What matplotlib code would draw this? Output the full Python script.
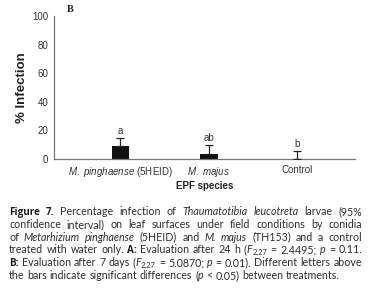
import matplotlib
matplotlib.use("Agg")
import matplotlib.pyplot as plt

# data
species = [r"$\mathit{M.\ pinghaense}$ (5HEID)", r"$\mathit{M.\ majus}$", "Control"]
infection = [9, 3.5, 0]
ci_upper = [6, 6.5, 5.5]
letters = ["a", "ab", "b"]
yticks = [0, 20, 40, 60, 80, 100]

caption = [
    "#Figure 7.# Percentage infection of *Thaumatotibia leucotreta* larvae (95%",
    "confidence interval) on leaf surfaces under field conditions by conidia",
    "of *Metarhizium pinghaense* (5HEID) and *M. majus* (TH153) and a control",
    "treated with water only. #A:# Evaluation after 24 h (*F*~2,27~ = 2.4495; *p* = 0.11.",
    "#B:# Evaluation after 7 days (*F*~2,27~ = 5.0870; *p* = 0.01). Different letters above",
    "the bars indicate significant differences (*p* < 0.05) between treatments.",
]

plt.rcParams['font.family'] = ['Liberation Sans', 'DejaVu Sans']
plt.rcParams['mathtext.fontset'] = 'custom'
plt.rcParams['mathtext.it'] = 'Liberation Sans:italic'
plt.rcParams['mathtext.rm'] = 'Liberation Sans'

W, H = 370, 304
fig = plt.figure(figsize=(W / 100, H / 100), dpi=100)
ax = fig.add_axes([54 / W, 1 - 159 / H, 301 / W, 143 / H])

x = range(len(species))
ax.bar(x, infection, width=0.2, color='#111111', zorder=2)
ax.errorbar(x, infection, yerr=[[0] * 3, ci_upper], fmt='none', ecolor='#222222',
            elinewidth=0.9, capsize=3.2, capthick=0.9, zorder=3)
for i in x:
    ax.text(i, infection[i] + ci_upper[i] + 1.2, letters[i], ha='center', va='bottom',
            fontsize=7, color='#333333')

ax.set_xlim(-0.75, 2.65)
ax.set_ylim(0, 100)
ax.set_yticks(yticks)
ax.set_xticks(list(x))
ax.set_xticklabels(species)
ax.tick_params(length=0, labelsize=7, colors='#333333', pad=4)
for s in ['top', 'right']:
    ax.spines[s].set_visible(False)
for s in ['left', 'bottom']:
    ax.spines[s].set_color('#777777')
    ax.spines[s].set_linewidth(0.9)
ax.set_ylabel("% Infection", fontsize=9.5, fontweight='bold', color='#222222', labelpad=3)
ax.set_xlabel("EPF species", fontsize=7, fontweight='bold', color='#222222', labelpad=2)
fig.text(70 / W, 1 - 9 / H, "B", family='Liberation Serif', fontweight='bold',
         fontsize=7.5, ha='center', va='center', color='#222222')

# caption, justified word by word
cap_font = 'Lato'
cap_col = '#2e2e2e'
x0, x1 = 9, 362
base0, step = 215, 12.8
renderer = fig.canvas.get_renderer()


def parse(line):
    words = []
    st = {'*': False, '#': False, '~': False}
    for w in line.split(' '):
        pieces = []
        cur = ''
        for ch in w:
            if ch in st:
                if cur:
                    pieces.append((cur, dict(st)))
                    cur = ''
                st[ch] = not st[ch]
            else:
                cur += ch
        if cur:
            pieces.append((cur, dict(st)))
        words.append(pieces)
    return words


def make(txt, s, size):
    size = size * (0.7 if s['~'] else 1)
    if s['#']:
        t = fig.text(0, 0, txt, family='Open Sans', fontsize=size * 0.93, color='#1e1e1e',
                     fontweight='bold', va='baseline')
    else:
        t = fig.text(0, 0, txt, family=cap_font, fontsize=size, color=cap_col,
                     fontstyle='italic' if s['*'] else 'normal', va='baseline')
    return t, t.get_window_extent(renderer).width


plain = {'*': False, '#': False, '~': False}


def space_width(size):
    a = make("a a", plain, size)
    b = make("aa", plain, size)
    a[0].remove()
    b[0].remove()
    return a[1] - b[1]


# pick a size so the widest line fits with normal word spacing
ref = 8.0
widest = 0
sw = space_width(ref)
for line in caption:
    tot = 0
    for pieces in parse(line):
        for t, s in pieces:
            o = make(t, s, ref)
            tot += o[1]
            o[0].remove()
    tot += sw * (len(line.split(' ')) - 1)
    widest = max(widest, tot)
cap_size = min(8.6, ref * (x1 - x0) / widest * 0.995)
space_w = space_width(cap_size)

for li, line in enumerate(caption):
    base = H - (base0 + li * step)
    words = []
    for pieces in parse(line):
        words.append([(make(t, s, cap_size), s) for t, s in pieces])
    widths = [sum(it[0][1] for it in w) for w in words]
    if li < len(caption) - 1:
        gap = (x1 - x0 - sum(widths)) / (len(words) - 1)
    else:
        gap = space_w
    xp = x0
    for w, ww in zip(words, widths):
        xx = xp
        for (t, wd), s in w:
            yy = base - (2 if s['~'] else 0)
            t.set_position((xx / W, yy / H))
            xx += wd
        xp += ww + gap

fig.savefig("out.png", dpi=100)
